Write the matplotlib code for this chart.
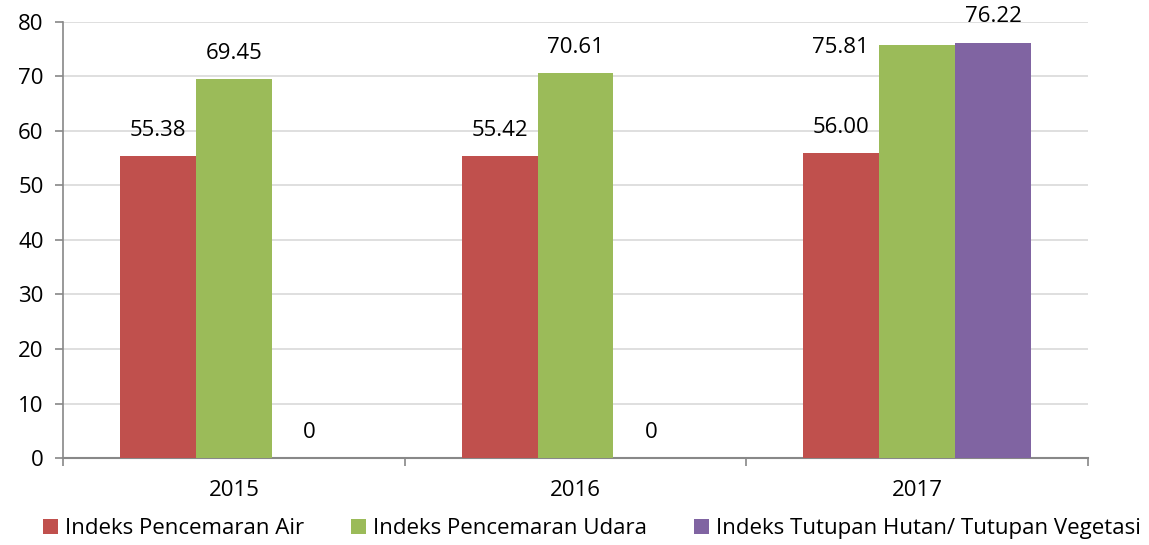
import numpy as np
import matplotlib
matplotlib.use('Agg')
import matplotlib.pyplot as plt

years = ['2015', '2016', '2017']
series_names = ['Indeks Pencemaran Air', 'Indeks Pencemaran Udara',
                'Indeks Tutupan Hutan/ Tutupan Vegetasi']
air = [55.38, 55.42, 56.00]
udara = [69.45, 70.61, 75.81]
hutan = [0, 0, 76.22]
labels_air = ['55.38', '55.42', '56.00']
labels_udara = ['69.45', '70.61', '75.81']
labels_hutan = ['0', '0', '76.22']

colors = ['#C0504D', '#9BBB59', '#8064A2']
fs = 16

plt.rcParams['font.family'] = ['Open Sans', 'DejaVu Sans']

fig = plt.figure(figsize=(11.49, 5.45), dpi=100)
ax = fig.add_axes([63 / 1149, 87 / 545, 1025 / 1149, 436 / 545])

x = np.arange(len(years))
w = 0.222
data = [air, udara, hutan]
labs = [labels_air, labels_udara, labels_hutan]
for i, (vals, lab) in enumerate(zip(data, labs)):
    pos = x + (i - 1) * w
    ax.bar(pos, vals, width=w, color=colors[i], label=series_names[i], zorder=3)
    for j, (p, v, t) in enumerate(zip(pos, vals, lab)):
        dx, dy = 0, 11
        if i == 1 and j == 2:
            # Excel nudged this label left to avoid the neighbour
            dx, dy = -55, -2
            ax.annotate(t, (p, v), xytext=(dx, dy), textcoords='offset points',
                        ha='center', va='center', fontsize=fs, zorder=5)
            continue
        ax.annotate(t, (p, v), xytext=(dx, dy), textcoords='offset points',
                    ha='center', va='bottom', fontsize=fs, color='black', zorder=5)

ax.set_xlim(-0.5, 2.5)
ax.set_ylim(0, 80)
ax.set_yticks(range(0, 81, 10))
ax.yaxis.grid(True, color='#D9D9D9', linewidth=1.2, zorder=0)
ax.set_axisbelow(True)

ax.set_xticks(x)
ax.set_xticklabels(years)
ax.set_xticks([-0.5, 0.5, 1.5, 2.5], minor=True)
ax.tick_params(axis='x', which='major', length=0, pad=16, labelsize=fs)
ax.tick_params(axis='x', which='minor', length=6, color='#888888', width=1.2)
ax.tick_params(axis='y', length=6, color='#888888', width=1.2, labelsize=fs, pad=8)

for s in ['top', 'right']:
    ax.spines[s].set_visible(False)
ax.spines['left'].set_color('#888888')
ax.spines['bottom'].set_color('#888888')
ax.spines['left'].set_linewidth(1.2)
ax.spines['bottom'].set_linewidth(1.5)

fig.legend(loc='center', bbox_to_anchor=(0.515, 0.03), ncol=3, frameon=False,
           fontsize=fs, handlelength=0.7, handleheight=0.7, handletextpad=0.3,
           columnspacing=2.1)

fig.savefig('out.png', dpi=100)
